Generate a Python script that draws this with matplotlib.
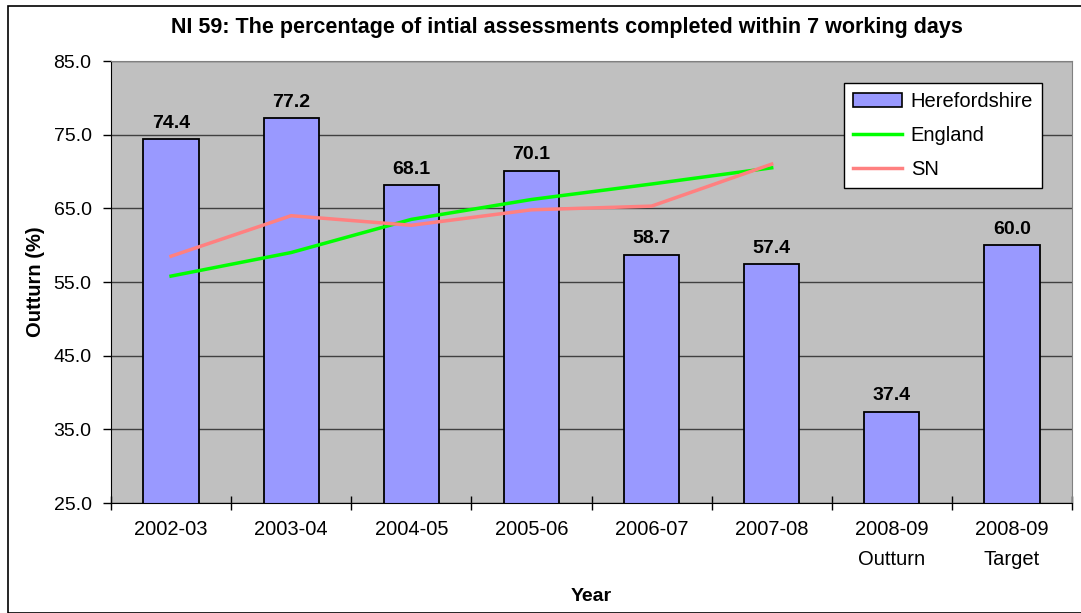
import matplotlib.pyplot as plt
from matplotlib.patches import Rectangle, Patch
from matplotlib.lines import Line2D

plt.rcParams['font.family'] = ['Liberation Sans', 'DejaVu Sans']

# data
years = ['2002-03', '2003-04', '2004-05', '2005-06', '2006-07', '2007-08',
         '2008-09\nOutturn', '2008-09\nTarget']
hereford = [74.4, 77.2, 68.1, 70.1, 58.7, 57.4, 37.4, 60.0]
england = [55.8, 59.0, 63.5, 66.2, 68.3, 70.5]
sn = [58.5, 64.0, 62.7, 64.8, 65.3, 71.0]
yticks = [25, 35, 45, 55, 65, 75, 85]

W, H = 1081, 613
fig = plt.figure(figsize=(W / 100, H / 100), dpi=100)
fig.patches.append(Rectangle((8 / W, 0), (W - 8) / W + 0.01, 1 - 6 / H,
                             transform=fig.transFigure, fill=False,
                             edgecolor='black', linewidth=1.2))

ax = fig.add_axes([111 / W, 1 - 503 / H, (1072 - 111) / W, (503 - 61) / H])
ax.set_facecolor('#C0C0C0')

x = list(range(len(years)))
ax.bar(x, hereford, width=0.46, color='#9999FF', edgecolor='black',
       linewidth=1.3, zorder=2)
ax.plot(x[:len(england)], england, color='#00FF00', linewidth=2.5, zorder=3)
ax.plot(x[:len(sn)], sn, color='#FF8080', linewidth=2.5, zorder=3)

for xi, v in zip(x, hereford):
    ax.text(xi, v + 1.0, '%.1f' % v, ha='center', va='bottom',
            fontsize=14, fontweight='bold')

ax.set_ylim(25, 85)
ax.set_xlim(-0.5, len(years) - 0.5)
ax.set_yticks(yticks)
ax.set_yticklabels(['%.1f' % t for t in yticks], fontsize=14)
ax.yaxis.grid(True, color='#404040', linewidth=1.0, zorder=1)
ax.set_axisbelow(True)

ax.set_xticks(x)
ax.set_xticklabels(years, fontsize=14.5, linespacing=1.75)
ax.tick_params(axis='x', length=0, pad=12)
ax.set_xticks([i - 0.5 for i in range(len(years) + 1)], minor=True)
ax.tick_params(axis='x', which='minor', length=10, width=1, direction='inout')
ax.tick_params(axis='y', length=6, width=1, direction='out', pad=8)

for side in ['top', 'right']:
    ax.spines[side].set_color('#808080')
for side in ['left', 'bottom']:
    ax.spines[side].set_color('black')

ax.set_ylabel('Outturn (%)', fontsize=14.5, fontweight='bold', labelpad=6)
ax.set_xlabel('Year', fontsize=14, fontweight='bold', labelpad=14)
fig.text(567 / W, 1 - 28 / H, 'NI 59: The percentage of intial assessments completed within 7 working days',
         ha='center', va='center', fontsize=15.5, fontweight='bold')

handles = [Patch(facecolor='#9999FF', edgecolor='black', linewidth=1.2),
           Line2D([], [], color='#00FF00', linewidth=2.5),
           Line2D([], [], color='#FF8080', linewidth=2.5)]
leg = ax.legend(handles, ['Herefordshire', 'England', 'SN'],
                loc='upper left', bbox_to_anchor=(0.763, 0.95),
                borderaxespad=0, fontsize=14.5, fancybox=False, framealpha=1,
                edgecolor='black', borderpad=0.45, labelspacing=0.75,
                handlelength=2.4, handletextpad=0.45)
leg.get_frame().set_linewidth(1.0)

fig.savefig('out.png', dpi=100)
